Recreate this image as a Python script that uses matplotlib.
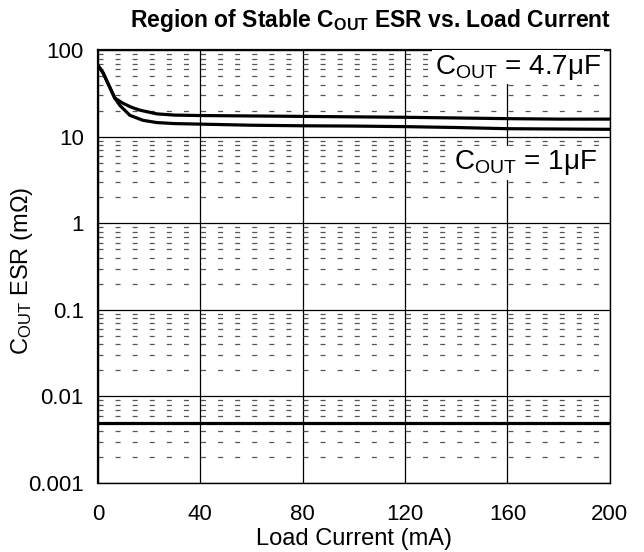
import matplotlib
matplotlib.use("Agg")
import matplotlib.pyplot as plt
import numpy as np
from matplotlib.ticker import LogLocator, NullFormatter

plt.rcParams["font.family"] = ["Liberation Sans", "DejaVu Sans"]
plt.rcParams["mathtext.fontset"] = "custom"
plt.rcParams["mathtext.rm"] = "Liberation Sans"
plt.rcParams["mathtext.it"] = "Liberation Sans"
plt.rcParams["mathtext.bf"] = "Liberation Sans:bold"
plt.rcParams["lines.scale_dashes"] = False

# --- data ---
load_upper = [0, 2, 4, 6.6, 9.8, 13, 16.4, 23, 30, 40, 60, 80, 100, 120, 140, 160, 180, 200]
esr_upper = [67, 55, 41, 28, 24.4, 22, 20.3, 18.4, 17.8, 17.6, 17.4, 17.2, 17.0, 16.8, 16.5, 16.2, 16.0, 16.0]

load_lower = [0, 2, 4, 6.6, 8.6, 12.5, 17.6, 23, 30, 40, 60, 80, 100, 120, 140, 160, 180, 200]
esr_lower = [67, 55, 41, 28, 23, 17.7, 15.5, 14.6, 14.2, 14.0, 13.6, 13.4, 13.3, 13.1, 12.8, 12.4, 12.3, 12.2]

esr_min = 0.005
x_ticks = [0, 40, 80, 120, 160, 200]
y_ticks = [0.001, 0.01, 0.1, 1, 10, 100]
y_tick_labels = ["0.001", "0.01", "0.1", "1", "10", "100"]

fig = plt.figure(figsize=(6.44, 5.52), dpi=100)
ax = fig.add_axes([0.152, 0.125, 0.795, 0.784])

ax.set_yscale("log")
ax.set_xlim(0, 200)
ax.set_ylim(0.001, 100)

# grid: solid majors, short-dash minors
ax.set_xticks(x_ticks)
ax.set_yticks(y_ticks)
ax.set_yticklabels(y_tick_labels)
ax.yaxis.set_minor_locator(LogLocator(base=10, subs=np.arange(2, 10)))
ax.yaxis.set_minor_formatter(NullFormatter())
ax.grid(True, which="major", color="black", linewidth=0.9)
ax.grid(True, which="minor", axis="y", color="#555555",
        linewidth=0.9, linestyle=(0, (3.6, 8.7)))
ax.set_axisbelow(True)
ax.tick_params(which="both", length=0)
ax.tick_params(axis="x", pad=15, labelsize=16)
ax.tick_params(axis="y", pad=10, labelsize=16)

for side in ["left", "top"]:
    ax.spines[side].set_linewidth(1.6)
for side in ["right", "bottom"]:
    ax.spines[side].set_linewidth(1.0)

ax.plot(load_upper, esr_upper, color="black", linewidth=2.3)
ax.plot(load_lower, esr_lower, color="black", linewidth=2.3)
ax.axhline(esr_min, color="black", linewidth=2.3)

ax.text(164, 64, r"C$_{\mathrm{OUT}}$ = 4.7$\mu$F", fontsize=20, ha="center", va="center",
        bbox=dict(facecolor="white", edgecolor="none", pad=2))
ax.text(167, 5.0, r"C$_{\mathrm{OUT}}$ = 1$\mu$F", fontsize=20, ha="center", va="center",
        bbox=dict(facecolor="white", edgecolor="none", pad=2))

ax.set_xlabel("Load Current (mA)", fontsize=17, labelpad=2)
ax.set_ylabel(r"C$_{\mathrm{OUT}}$ ESR (m$\Omega$)", fontsize=17)
ax.yaxis.set_label_coords(-0.122, 0.49)
fig.text(0.575, 0.962, r"Region of Stable C$_{\mathbf{OUT}}$ ESR vs. Load Current",
         fontsize=16.5, fontweight="bold", ha="center", va="center")

fig.savefig("out.png", dpi=100, facecolor="white")
